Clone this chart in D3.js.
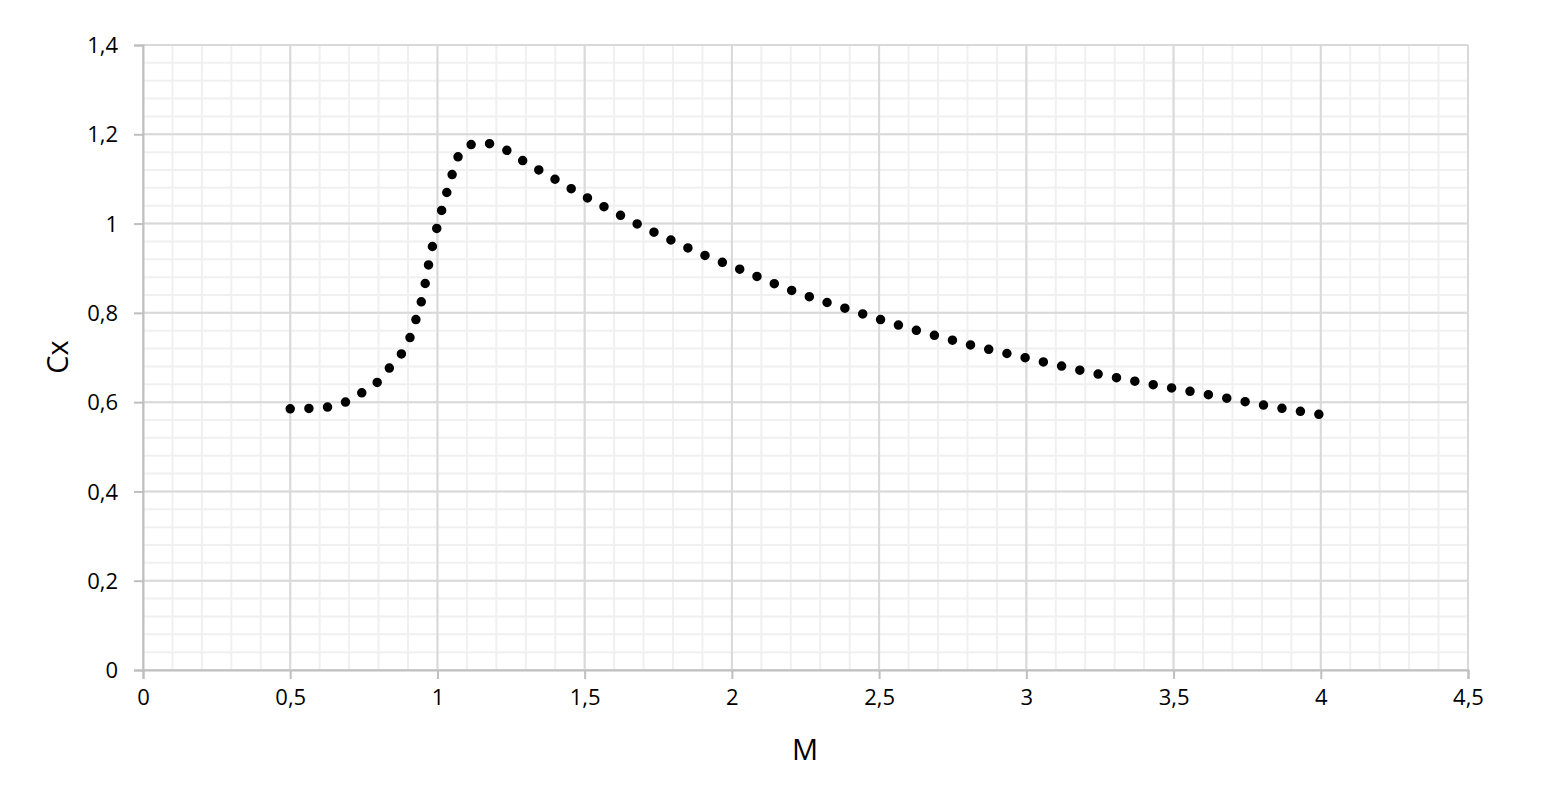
<!DOCTYPE html>
<html><head><meta charset="utf-8">
<script src="https://cdn.jsdelivr.net/npm/d3@7"></script>
<style>
body{margin:0;background:#fff;}
text{font-family:"Open Sans","Liberation Sans",sans-serif;fill:#000;}
</style></head>
<body><svg id="c" width="1545" height="802"></svg>
<script>
const machValues = [0.5,0.6,0.7,0.75,0.8,0.85,0.9,0.925,0.95,0.975,1.0,1.025,1.05,1.075,1.1,1.15,1.2,1.3,1.4,1.5,1.6,1.7,1.8,1.9,2.0,2.2,2.4,2.6,2.8,3.0,3.2,3.4,3.6,3.8,4.0];
const cxValues   = [0.585,0.587,0.604,0.624,0.647,0.688,0.733,0.781,0.838,0.925,0.995,1.054,1.11,1.157,1.173,1.181,1.175,1.137,1.099,1.061,1.026,0.992,0.961,0.931,0.905,0.851,0.807,0.766,0.730,0.699,0.669,0.643,0.619,0.594,0.572];
const xTicks = [0,0.5,1,1.5,2,2.5,3,3.5,4,4.5];
const yTicks = [0,0.2,0.4,0.6,0.8,1.0,1.2,1.4];
const xTitle = "M", yTitle = "Cx";

const svg = d3.select("#c");
const L=143, R=1468, T=45, B=670;
const x = d3.scaleLinear().domain([0,4.5]).range([L,R]);
const y = d3.scaleLinear().domain([0,1.4]).range([B,T]);
const fmt = v => String(+v.toFixed(2)).replace(".", ",");

// minor grid
const xMinor = d3.range(0,4.5001,0.1).map(v=>+v.toFixed(2));
const yMinor = d3.range(0,1.4001,0.04).map(v=>+v.toFixed(2));
svg.append("g").selectAll("line").data(xMinor).join("line")
  .attr("x1",d=>x(d)).attr("x2",d=>x(d)).attr("y1",T).attr("y2",B)
  .attr("stroke","#f0f0f0").attr("stroke-width",2);
svg.append("g").selectAll("line").data(yMinor).join("line")
  .attr("y1",d=>y(d)).attr("y2",d=>y(d)).attr("x1",L).attr("x2",R)
  .attr("stroke","#f0f0f0").attr("stroke-width",2);
// major grid
svg.append("g").selectAll("line").data(xTicks).join("line")
  .attr("x1",d=>x(d)).attr("x2",d=>x(d)).attr("y1",T).attr("y2",B)
  .attr("stroke","#d9d9d9").attr("stroke-width",2);
svg.append("g").selectAll("line").data(yTicks).join("line")
  .attr("y1",d=>y(d)).attr("y2",d=>y(d)).attr("x1",L).attr("x2",R)
  .attr("stroke","#d9d9d9").attr("stroke-width",2);

// axes
const xAxis = svg.append("g").attr("transform",`translate(0,${B})`)
  .call(d3.axisBottom(x).tickValues(xTicks).tickFormat(fmt).tickSize(9).tickPadding(10));
const yAxis = svg.append("g").attr("transform",`translate(${L},0)`)
  .call(d3.axisLeft(y).tickValues(yTicks).tickFormat(fmt).tickSize(9).tickPadding(16));
[xAxis,yAxis].forEach(g=>{
  g.attr("font-size",null).attr("font-family",null);
  g.select(".domain").attr("stroke","#bfbfbf").attr("stroke-width",2);
  g.selectAll(".tick line").attr("stroke","#bfbfbf").attr("stroke-width",2);
  g.selectAll("text").style("font-size","22px").style("font-family","'Open Sans','Liberation Sans',sans-serif").attr("fill","#000");
});
yAxis.selectAll("text").attr("dy","0.35em");

// line
const pts = machValues.map((m,i)=>[m,cxValues[i]]);
svg.append("path").datum(pts)
  .attr("d", d3.line().x(d=>x(d[0])).y(d=>y(d[1])).curve(d3.curveMonotoneX))
  .attr("fill","none").attr("stroke","#000").attr("stroke-width",9.5)
  .attr("stroke-linecap","round").attr("stroke-dasharray","0 18.7");

// titles
svg.append("text").attr("x",805).attr("y",760).attr("text-anchor","middle")
  .style("font-size","29px").text(xTitle);
svg.append("text").attr("transform","translate(68,357) rotate(-90)").attr("text-anchor","middle")
  .style("font-size","29px").text(yTitle);
</script></body></html>
